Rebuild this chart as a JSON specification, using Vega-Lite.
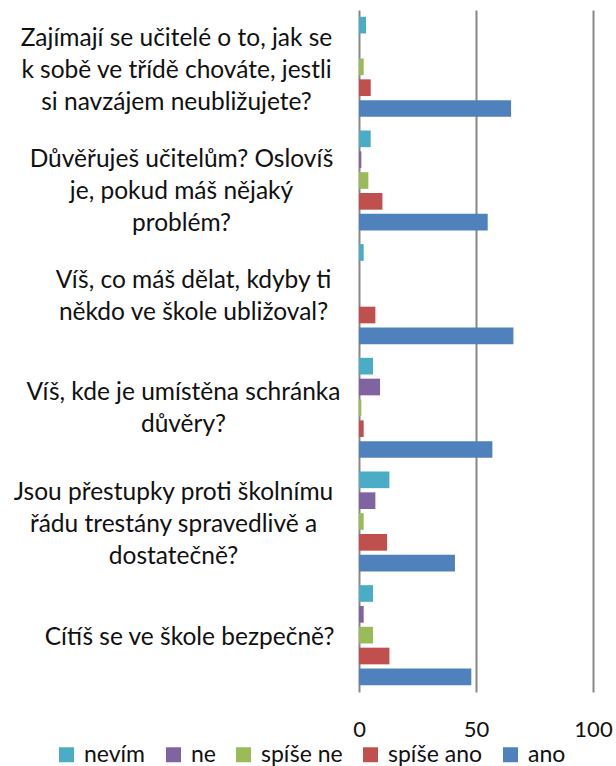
{
  "$schema": "https://vega.github.io/schema/vega-lite/v6.json",
  "autosize": {"type": "none"},
  "padding": {"left": 359, "top": 10, "right": 23, "bottom": 74},
  "width": 234,
  "height": 682,
  "background": "white",
  "config": {
    "font": "Lato",
    "view": {"stroke": null}
  },
  "data": {
    "values": [
      {"q": "Zajímají se učitelé o to, jak se|k sobě ve třídě chováte, jestli|si navzájem neubližujete?", "s": "nevím", "v": 3},
      {"q": "Zajímají se učitelé o to, jak se|k sobě ve třídě chováte, jestli|si navzájem neubližujete?", "s": "ne", "v": 0},
      {"q": "Zajímají se učitelé o to, jak se|k sobě ve třídě chováte, jestli|si navzájem neubližujete?", "s": "spíše ne", "v": 2},
      {"q": "Zajímají se učitelé o to, jak se|k sobě ve třídě chováte, jestli|si navzájem neubližujete?", "s": "spíše ano", "v": 5},
      {"q": "Zajímají se učitelé o to, jak se|k sobě ve třídě chováte, jestli|si navzájem neubližujete?", "s": "ano", "v": 65},
      {"q": "Důvěřuješ učitelům? Oslovíš|je, pokud máš nějaký|problém?", "s": "nevím", "v": 5},
      {"q": "Důvěřuješ učitelům? Oslovíš|je, pokud máš nějaký|problém?", "s": "ne", "v": 1},
      {"q": "Důvěřuješ učitelům? Oslovíš|je, pokud máš nějaký|problém?", "s": "spíše ne", "v": 4},
      {"q": "Důvěřuješ učitelům? Oslovíš|je, pokud máš nějaký|problém?", "s": "spíše ano", "v": 10},
      {"q": "Důvěřuješ učitelům? Oslovíš|je, pokud máš nějaký|problém?", "s": "ano", "v": 55},
      {"q": "Víš, co máš dělat, kdyby ti|někdo ve škole ubližoval?", "s": "nevím", "v": 2},
      {"q": "Víš, co máš dělat, kdyby ti|někdo ve škole ubližoval?", "s": "ne", "v": 0},
      {"q": "Víš, co máš dělat, kdyby ti|někdo ve škole ubližoval?", "s": "spíše ne", "v": 0},
      {"q": "Víš, co máš dělat, kdyby ti|někdo ve škole ubližoval?", "s": "spíše ano", "v": 7},
      {"q": "Víš, co máš dělat, kdyby ti|někdo ve škole ubližoval?", "s": "ano", "v": 66},
      {"q": "Víš, kde je umístěna schránka|důvěry?", "s": "nevím", "v": 6},
      {"q": "Víš, kde je umístěna schránka|důvěry?", "s": "ne", "v": 9},
      {"q": "Víš, kde je umístěna schránka|důvěry?", "s": "spíše ne", "v": 1},
      {"q": "Víš, kde je umístěna schránka|důvěry?", "s": "spíše ano", "v": 2},
      {"q": "Víš, kde je umístěna schránka|důvěry?", "s": "ano", "v": 57},
      {"q": "Jsou přestupky proti školnímu|řádu trestány spravedlivě a|dostatečně?", "s": "nevím", "v": 13},
      {"q": "Jsou přestupky proti školnímu|řádu trestány spravedlivě a|dostatečně?", "s": "ne", "v": 7},
      {"q": "Jsou přestupky proti školnímu|řádu trestány spravedlivě a|dostatečně?", "s": "spíše ne", "v": 2},
      {"q": "Jsou přestupky proti školnímu|řádu trestány spravedlivě a|dostatečně?", "s": "spíše ano", "v": 12},
      {"q": "Jsou přestupky proti školnímu|řádu trestány spravedlivě a|dostatečně?", "s": "ano", "v": 41},
      {"q": "Cítíš se ve škole bezpečně?", "s": "nevím", "v": 6},
      {"q": "Cítíš se ve škole bezpečně?", "s": "ne", "v": 2},
      {"q": "Cítíš se ve škole bezpečně?", "s": "spíše ne", "v": 6},
      {"q": "Cítíš se ve škole bezpečně?", "s": "spíše ano", "v": 13},
      {"q": "Cítíš se ve škole bezpečně?", "s": "ano", "v": 48}
    ]
  },
  "mark": {"type": "bar"},
  "encoding": {
    "y": {
      "field": "q",
      "type": "nominal",
      "sort": null,
      "scale": {"paddingInner": 0.12, "paddingOuter": 0.06},
      "axis": {
        "title": null,
        "domain": false,
        "ticks": false,
        "labelAlign": "center",
        "labelBaseline": "middle",
        "labelPadding": {
          "condition": [
            {"test": "indexof(datum.value, 'Zajímají') >= 0", "value": 183},
            {"test": "indexof(datum.value, 'Důvěřuješ') >= 0", "value": 178},
            {"test": "indexof(datum.value, 'co máš') >= 0", "value": 166},
            {"test": "indexof(datum.value, 'schránka') >= 0", "value": 176},
            {"test": "indexof(datum.value, 'přestupky') >= 0", "value": 186}
          ],
          "value": 170
        },
        "labelOffset": {
          "condition": [
            {"test": "indexof(datum.value, 'Zajímají') >= 0", "value": -28},
            {"test": "indexof(datum.value, 'Důvěřuješ') >= 0", "value": -21},
            {"test": "indexof(datum.value, 'co máš') >= 0", "value": -13},
            {"test": "indexof(datum.value, 'schránka') >= 0", "value": -15},
            {"test": "indexof(datum.value, 'přestupky') >= 0", "value": -29}
          ],
          "value": 3
        },
        "labelLimit": 400,
        "labelFontSize": 24.5,
        "labelLineHeight": 32,
        "labelColor": "#111111",
        "labelFont": "Lato",
        "labelExpr": "split(datum.label, '|')"
      }
    },
    "yOffset": {
      "field": "s",
      "type": "nominal",
      "sort": ["nevím", "ne", "spíše ne", "spíše ano", "ano"],
      "scale": {"paddingInner": 0.2, "paddingOuter": 0}
    },
    "x": {
      "field": "v",
      "type": "quantitative",
      "scale": {"domain": [0, 100], "nice": false},
      "axis": {
        "title": null,
        "values": [0, 50, 100],
        "domain": false,
        "ticks": false,
        "grid": true,
        "gridColor": "#878787",
        "gridWidth": 2,
        "labelFlush": false,
        "labelOverlap": false,
        "labelFontSize": 22,
        "labelColor": "#111111",
        "labelPadding": 27,
        "labelFont": "Lato"
      }
    },
    "color": {
      "field": "s",
      "type": "nominal",
      "scale": {
        "domain": ["nevím", "ne", "spíše ne", "spíše ano", "ano"],
        "range": ["#4BACC6", "#8064A2", "#9BBB59", "#C0504D", "#4F81BD"]
      },
      "legend": {
        "title": null,
        "orient": "none",
        "direction": "horizontal",
        "legendX": -304,
        "legendY": 733,
        "padding": 0,
        "symbolType": "square",
        "symbolSize": 225,
        "symbolStrokeWidth": 0,
        "labelFontSize": 23,
        "labelColor": "#111111",
        "labelFont": "Lato",
        "labelOffset": 6,
        "columnPadding": 16
      }
    }
  }
}
